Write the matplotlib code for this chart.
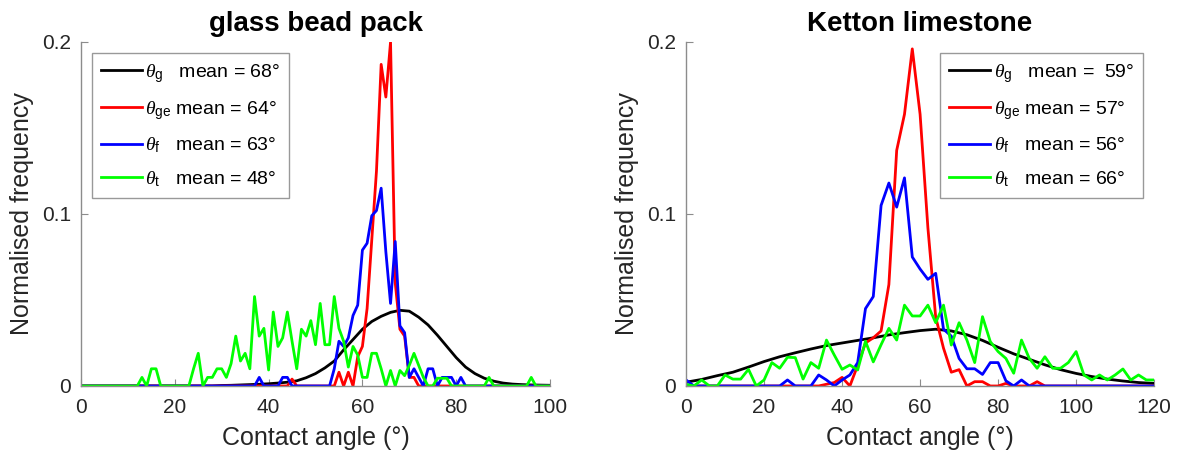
import numpy as np
import matplotlib
matplotlib.use('Agg')
import matplotlib.pyplot as plt

plt.rcParams['font.family'] = ['Liberation Sans', 'DejaVu Sans']
plt.rcParams['mathtext.fontset'] = 'custom'
plt.rcParams['mathtext.rm'] = 'Liberation Sans'
plt.rcParams['mathtext.it'] = 'Liberation Serif:italic'

# ---- glass bead pack (1 degree bins) ----
angle_left = np.arange(0, 101)
red_left = [0]*40 + [
    0, 0, 0, 0, 0, 0.004, 0, 0, 0, 0,
    0, 0, 0, 0, 0, 0.008, 0, 0.008, 0, 0.017,
    0.023, 0.045, 0.085, 0.125, 0.187, 0.168, 0.2, 0.06, 0.033, 0.029,
    0.005, 0.005, 0, 0, 0, 0, 0, 0, 0, 0] + [0]*21
blue_left = [0]*38 + [0.005, 0, 0, 0, 0, 0.005, 0.005] + [0]*9 + [
    0.01, 0.026, 0.023, 0.028, 0.041, 0.047,
    0.079, 0.083, 0.099, 0.102, 0.115, 0.078, 0.048, 0.084, 0.035, 0.031,
    0.005, 0.01, 0.005, 0, 0.01, 0.01, 0, 0.005, 0.005, 0.005,
    0, 0.005] + [0]*19
green_left = [
    0, 0, 0, 0, 0, 0, 0, 0, 0, 0,
    0, 0, 0, 0.005, 0, 0.01, 0.01, 0, 0, 0,
    0, 0, 0, 0, 0.01, 0.019, 0, 0.005, 0.005, 0.01,
    0.01, 0.005, 0.013, 0.029, 0.0145, 0.019, 0.01, 0.052, 0.029, 0.0335,
    0.0093, 0.043, 0.023, 0.028, 0.043, 0.026, 0.01, 0.033, 0.029, 0.038,
    0.024, 0.048, 0.024, 0.024, 0.052, 0.0335, 0.026, 0.011, 0.023, 0.018,
    0.005, 0.005, 0.019, 0.019, 0.01, 0, 0.009, 0, 0.009, 0.006,
    0.012, 0.019, 0.012, 0.005, 0, 0, 0.0045, 0.0045, 0.0045, 0,
    0, 0, 0, 0, 0, 0, 0, 0.005, 0, 0,
    0, 0, 0, 0, 0, 0, 0.005, 0, 0, 0, 0]
angle_left_fit = np.arange(0, 101, 2)
black_left = [0]*15 + [
    0.0003, 0.0004, 0.0006, 0.0008, 0.001, 0.0013, 0.0017, 0.0022, 0.003, 0.0048,
    0.0072, 0.0105, 0.0145, 0.021, 0.027, 0.033, 0.0375, 0.0405, 0.0428, 0.044,
    0.0435, 0.04, 0.0355, 0.0295, 0.023, 0.0165, 0.011, 0.0072, 0.0045, 0.0028,
    0.0017, 0.0011, 0.0008, 0.0006, 0.0005, 0.0004]

# ---- Ketton limestone (2 degree bins) ----
angle_right = np.arange(0, 121, 2)
red_right = [0]*18 + [
    0.001, 0.002, 0.005, 0, 0.012, 0.025, 0.028, 0.032, 0.059, 0.137,
    0.158, 0.196, 0.158, 0.092, 0.04, 0.022, 0.008, 0.0095, 0, 0.0025,
    0.0025, 0, 0, 0.0015, 0, 0, 0, 0.0025] + [0]*15
blue_right = [0.0035] + [0]*12 + [0.0035, 0, 0, 0, 0.0064, 0.0035, 0,
    0.0035, 0.0064, 0.0136, 0.045, 0.052, 0.105, 0.118, 0.104, 0.121, 0.075,
    0.068, 0.062, 0.0655, 0.033, 0.029, 0.016, 0.01, 0.01, 0.0067, 0.0136,
    0.0136, 0.003, 0, 0.0035] + [0]*17
green_right = [
    0.001, 0, 0.0035, 0, 0, 0.0064, 0.004, 0.004, 0.0097, 0,
    0.0035, 0.0136, 0.0103, 0.0167, 0.0165, 0.004, 0.0136, 0.0103, 0.0267, 0.018,
    0.0097, 0.0122, 0.0093, 0.026, 0.014, 0.024, 0.0335, 0.0267, 0.047, 0.0407,
    0.0407, 0.047, 0.0368, 0.047, 0.0238, 0.0368, 0.0267, 0.0136, 0.0403, 0.0258,
    0.02, 0.016, 0.0074, 0.0267, 0.016, 0.0103, 0.017, 0.0103, 0.0103, 0.0136,
    0.02, 0.0064, 0.0035, 0.0064, 0.0035, 0.0064, 0.0099, 0.0035, 0.0064, 0.0035, 0.0035]
angle_right_fit = np.arange(0, 121, 4)
black_right = [
    0.0022, 0.0038, 0.006, 0.008, 0.011, 0.0142, 0.017, 0.0193, 0.0215, 0.0235,
    0.025, 0.0265, 0.028, 0.0297, 0.031, 0.0322, 0.033, 0.032, 0.0298, 0.0265,
    0.0225, 0.0187, 0.0155, 0.0123, 0.0095, 0.0073, 0.0055, 0.004, 0.0029, 0.002, 0.0015]

labels_left = [r'$\theta_{\mathrm{g}}$   mean = 68°', r'$\theta_{\mathrm{ge}}$ mean = 64°',
               r'$\theta_{\mathrm{f}}$   mean = 63°', r'$\theta_{\mathrm{t}}$   mean = 48°']
labels_right = [r'$\theta_{\mathrm{g}}$   mean =  59°', r'$\theta_{\mathrm{ge}}$ mean = 57°',
                r'$\theta_{\mathrm{f}}$   mean = 56°', r'$\theta_{\mathrm{t}}$   mean = 66°']

grey = '#262626'
fig = plt.figure(figsize=(11.79, 4.57), dpi=100)
ax1 = fig.add_axes([0.0687, 0.1554, 0.3978, 0.7527])
ax2 = fig.add_axes([0.5819, 0.1554, 0.3970, 0.7527])

def draw(ax, xf, black, x, red, blue, green, labels, title, xmax, legloc, anchor):
    lw = 2.0
    l1, = ax.plot(xf, black, color='k', lw=lw)
    l2, = ax.plot(x, red, color=(1, 0, 0), lw=lw)
    l3, = ax.plot(x, blue, color=(0, 0, 1), lw=lw)
    l4, = ax.plot(x, green, color=(0, 1, 0), lw=lw)
    ax.set_xlim(0, xmax)
    ax.set_ylim(0, 0.2)
    ax.set_xticks(np.arange(0, xmax + 1, 20))
    ax.set_yticks([0, 0.1, 0.2])
    ax.set_yticklabels(['0', '0.1', '0.2'])
    for s in ['top', 'right']:
        ax.spines[s].set_visible(False)
    for s in ['left', 'bottom']:
        ax.spines[s].set_color('#8c8c8c')
        ax.spines[s].set_linewidth(1.0)
    ax.tick_params(direction='in', length=5, color='#8c8c8c', labelsize=15,
                   labelcolor=grey)
    ax.tick_params(axis='x', pad=9)
    ax.tick_params(axis='y', pad=7)
    ax.set_xlabel('Contact angle (°)', fontsize=18, color=grey, labelpad=6)
    ax.set_ylabel('Normalised frequency', fontsize=18, color=grey, labelpad=6)
    ax.set_title(title, fontsize=20, fontweight='bold', pad=8)
    leg = ax.legend([l1, l2, l3, l4], labels, loc=legloc, bbox_to_anchor=anchor,
                    borderaxespad=0, fontsize=14, frameon=True, fancybox=False,
                    edgecolor='#999999', framealpha=1, handlelength=2.1,
                    handletextpad=0.2, labelspacing=0.72, borderpad=0.45)
    leg.get_frame().set_linewidth(1.0)

draw(ax1, angle_left_fit, black_left, angle_left, red_left, blue_left, green_left,
     labels_left, 'glass bead pack', 100, 'upper left', (0.0235, 0.968))
draw(ax2, angle_right_fit, black_right, angle_right, red_right, blue_right, green_right,
     labels_right, 'Ketton limestone', 120, 'upper right', (0.976, 0.968))

fig.savefig('out.png', dpi=100)
